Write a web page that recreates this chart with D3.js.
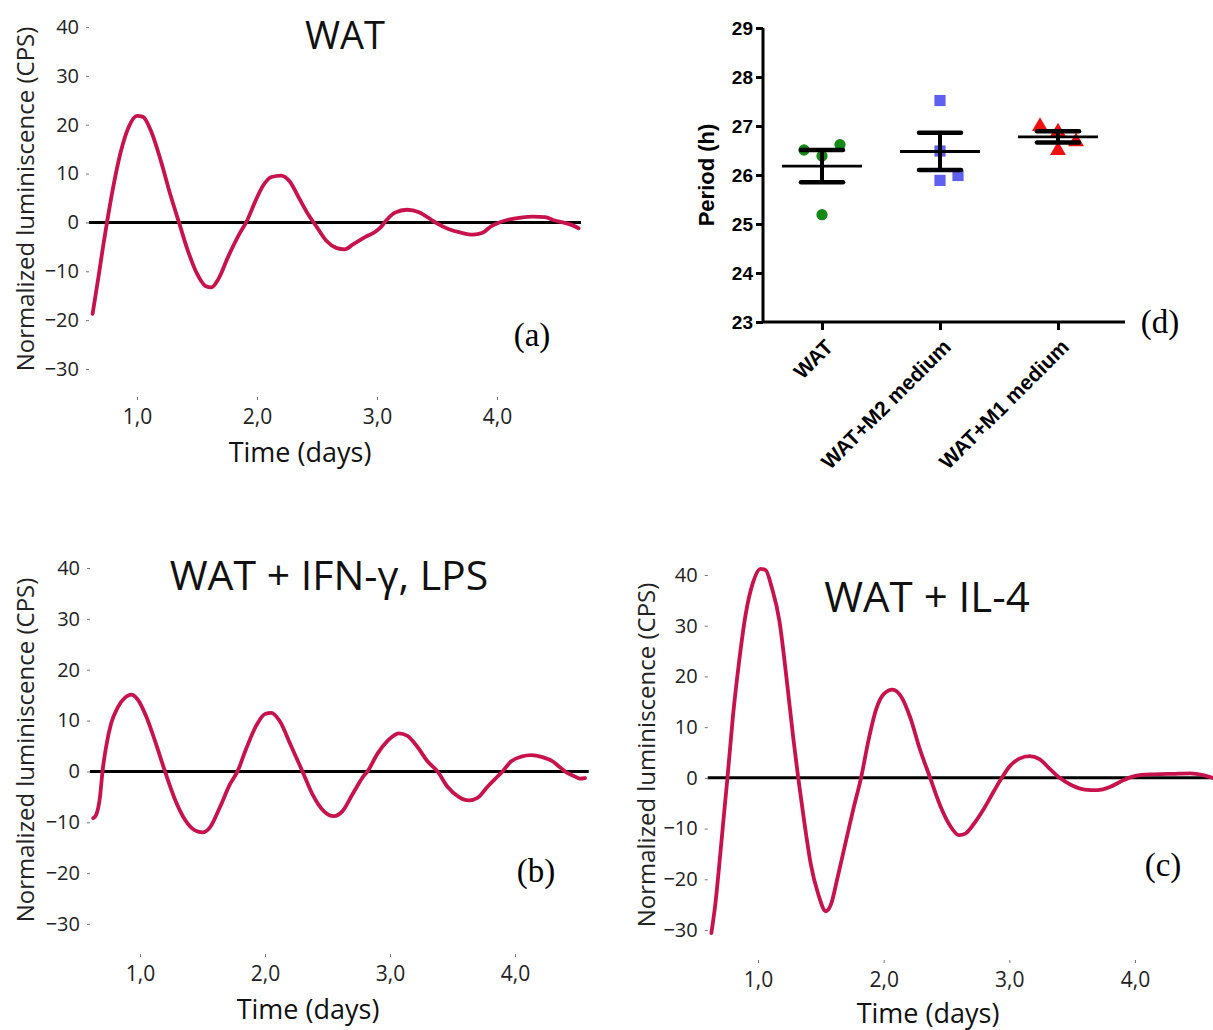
<!DOCTYPE html>
<html>
<head>
<meta charset="utf-8">
<script src="https://cdn.jsdelivr.net/npm/d3@7"></script>
<style>
  html, body { margin: 0; padding: 0; background: #fff; }
  svg { display: block; }
</style>
</head>
<body>
<svg id="chart" width="1213" height="1030"></svg>
<script>
// ---------------- DATA ----------------
// Luminescence traces: [day, normalized luminescence (CPS)]
const traceWAT = [
  [0.63,-18.7],[0.68,-11],[0.72,-4.5],[0.75,0],[0.80,7],[0.86,14],[0.93,19.5],[1.0,21.8],[1.05,21.6],
  [1.12,18.5],[1.2,12.5],[1.28,5.5],[1.35,0],[1.42,-5.5],[1.5,-10.5],[1.57,-13],[1.62,-13.3],
  [1.68,-11.5],[1.76,-7],[1.85,-2.5],[1.92,0.5],[1.98,4],[2.05,7.5],[2.12,9.3],[2.2,9.6],[2.27,8.5],
  [2.35,5],[2.43,1.5],[2.5,-1],[2.58,-3.8],[2.66,-5.2],[2.73,-5.5],[2.8,-4.5],[2.9,-3],[2.98,-2],
  [3.03,-1],[3.08,0.5],[3.15,2],[3.25,2.6],[3.35,2.1],[3.45,0.6],[3.5,-0.2],[3.6,-1.4],[3.7,-2.1],
  [3.8,-2.5],[3.88,-2.1],[3.95,-0.8],[4.02,0],[4.1,0.6],[4.2,1.0],[4.3,1.2],[4.4,1.1],[4.48,0.4],
  [4.55,0],[4.62,-0.5],[4.68,-1.2]
];
const traceIFN = [
  [0.626,-9.2],[0.65,-8.5],[0.68,-5],[0.70,0],[0.73,5],[0.77,9.5],[0.82,12.5],[0.88,14.5],[0.93,15.1],
  [0.98,14.2],[1.05,10.8],[1.12,6],[1.2,0],[1.28,-5.5],[1.36,-9.5],[1.44,-11.6],[1.5,-12],[1.56,-11],
  [1.64,-7],[1.72,-2.5],[1.78,0],[1.85,4.5],[1.93,9],[2.0,11.3],[2.05,11.5],[2.12,9.8],[2.2,5.5],
  [2.3,0],[2.38,-4.5],[2.47,-7.8],[2.55,-8.8],[2.62,-7.8],[2.7,-4.5],[2.78,-1.2],[2.82,0],[2.9,3.5],
  [2.98,6],[3.07,7.5],[3.14,7],[3.22,4.8],[3.3,2],[3.38,0],[3.46,-3],[3.55,-5],[3.63,-5.7],[3.7,-5.2],
  [3.78,-3],[3.86,-1],[3.9,0],[3.97,2],[4.05,2.9],[4.13,3.2],[4.22,2.8],[4.3,2],[4.36,0.8],[4.4,0],
  [4.47,-0.9],[4.52,-1.4],[4.56,-1.3]
];
const traceIL4 = [
  [0.629,-30.6],[0.66,-25],[0.70,-15],[0.73,-7],[0.757,0],[0.80,12],[0.85,23],[0.90,32],[0.96,38.5],
  [1.02,41.2],[1.06,41],[1.11,37.5],[1.17,31],[1.23,19],[1.28,8],[1.32,0],[1.37,-9],[1.42,-17],
  [1.48,-23],[1.54,-26.3],[1.58,-25],[1.63,-20],[1.69,-13.5],[1.76,-6],[1.82,0],[1.88,7.5],[1.94,13.5],
  [2.0,16.5],[2.07,17.4],[2.14,16],[2.21,12],[2.29,5.5],[2.37,0],[2.45,-5.5],[2.53,-9.5],[2.6,-11.3],
  [2.65,-11],[2.72,-9],[2.8,-6],[2.88,-2.5],[2.94,0],[3.0,2.2],[3.08,3.8],[3.16,4.3],[3.24,3.7],
  [3.32,1.8],[3.4,0],[3.5,-1.5],[3.6,-2.3],[3.7,-2.4],[3.8,-1.8],[3.88,-0.8],[3.95,0],[4.05,0.6],
  [4.15,0.7],[4.3,0.8],[4.44,0.9],[4.55,0.5],[4.62,0]
];
const lumTicks = [-30,-20,-10,0,10,20,30,40];
const dayTicks = [1,2,3,4];
const dayTickLabels = ["1,0","2,0","3,0","4,0"];

// Period panel
const periodCategories = ["WAT","WAT+M2 medium","WAT+M1 medium"];
const periodWAT = [26.51, 26.62, 26.39, 25.19];
const periodM2  = [27.52, 26.49, 25.99, 25.89];
const periodM1  = [26.99, 26.88, 26.68, 26.50];
const periodMean = [26.18, 26.48, 26.78];
const periodSEM  = [0.33, 0.38, 0.115];
const periodTicks = [23,24,25,26,27,28,29];

// ---------------- LAYOUT ----------------
const svg = d3.select("#chart");
const curveColor = "#c8124b";
const sansFont = "'Open Sans', 'Noto Sans', sans-serif";
const boldFont = "'Liberation Sans', Arial, sans-serif";
const serifFont = "'Liberation Serif', 'Times New Roman', serif";

const panels = [
  { data: traceWAT, title: "WAT", letter: "(a)", titleSize: 38,
    xr: [137, 497], yr: [369, 27], zeroEnd: 4.70, tickY: 397,
    titleX: 345, titleY: 49, letterX: 532, letterY: 346,
    ylabX: 24, ylabY: 199, xlabX: 300, xlabY: 462 },
  { data: traceIFN, title: "WAT + IFN-\u03b3, LPS", letter: "(b)", titleSize: 41,
    xr: [140, 515], yr: [924, 568], zeroEnd: 4.59, tickY: 954,
    titleX: 329, titleY: 590, letterX: 536, letterY: 882,
    ylabX: 24, ylabY: 750, xlabX: 308, xlabY: 1019 },
  { data: traceIL4, title: "WAT + IL-4", letter: "(c)", titleSize: 42,
    xr: [758, 1135], yr: [930, 575], zeroEnd: 4.64, tickY: 960,
    titleX: 927, titleY: 612, letterX: 1163, letterY: 876,
    ylabX: 645, ylabY: 755, xlabX: 928, xlabY: 1023 }
];

panels.forEach(p => {
  const x = d3.scaleLinear().domain([1, 4]).range(p.xr);
  const y = d3.scaleLinear().domain([-30, 40]).range(p.yr);
  const g = svg.append("g");

  // y axis (ticks only)
  const yAxis = d3.axisLeft(y).tickValues(lumTicks).tickSize(3).tickPadding(7)
    .tickFormat(d => d3.format("d")(d));
  const ya = g.append("g").attr("transform", `translate(${x(0.6)},0)`).call(yAxis);
  ya.select(".domain").remove();
  ya.selectAll(".tick line").attr("stroke", "#777").attr("stroke-width", 1);
  ya.selectAll(".tick text").attr("font-family", sansFont).attr("font-size", 20)
    .attr("fill", "#222");

  // x axis (ticks only)
  const xAxis = d3.axisBottom(x).tickValues(dayTicks).tickSize(3).tickPadding(9)
    .tickFormat((d, i) => dayTickLabels[i]);
  const xa = g.append("g").attr("transform", `translate(0,${p.tickY})`).call(xAxis);
  xa.select(".domain").remove();
  xa.selectAll(".tick line").attr("stroke", "#777").attr("stroke-width", 1);
  xa.selectAll(".tick text").attr("font-family", sansFont).attr("font-size", 21)
    .attr("fill", "#222");

  // zero line
  g.append("line")
    .attr("x1", x(0.6)).attr("x2", x(p.zeroEnd))
    .attr("y1", y(0)).attr("y2", y(0))
    .attr("stroke", "#000").attr("stroke-width", 3);

  // trace
  const line = d3.line().x(d => x(d[0])).y(d => y(d[1])).curve(d3.curveMonotoneX);
  g.append("path").datum(p.data).attr("d", line)
    .attr("fill", "none").attr("stroke", curveColor).attr("stroke-width", 3.8)
    .attr("stroke-linejoin", "round").attr("stroke-linecap", "round");

  // labels
  g.append("text").attr("x", p.titleX).attr("y", p.titleY).attr("text-anchor", "middle")
    .attr("font-family", sansFont).attr("font-size", p.titleSize).attr("fill", "#111").text(p.title);
  g.append("text").attr("x", p.letterX).attr("y", p.letterY).attr("text-anchor", "middle")
    .attr("font-family", serifFont).attr("font-size", 33).attr("fill", "#000").text(p.letter);
  g.append("text").attr("transform", `translate(${p.ylabX},${p.ylabY}) rotate(-90)`)
    .attr("text-anchor", "middle").attr("dominant-baseline", "central")
    .attr("font-family", sansFont).attr("font-size", 24).attr("fill", "#222")
    .text("Normalized luminiscence (CPS)");
  g.append("text").attr("x", p.xlabX).attr("y", p.xlabY).attr("text-anchor", "middle")
    .attr("font-family", sansFont).attr("font-size", 27).attr("fill", "#111")
    .text("Time (days)");
});

// ---------------- PANEL (d) ----------------
(function () {
  const left = 763, right = 1125;
  const y = d3.scaleLinear().domain([23, 29]).range([322, 28]);
  const x = d3.scalePoint().domain(periodCategories).range([822, 1058]);
  const g = svg.append("g");
  const jitterPx = 18;
  const jitter = [[-1, 1, 0, 0], [0, 0, 1, 0], [-1, 0, 1, 0]];
  const groups = [periodWAT, periodM2, periodM1];

  // y axis
  const ya = g.append("g").attr("transform", `translate(${left},0)`)
    .call(d3.axisLeft(y).tickValues(periodTicks).tickSize(7).tickPadding(3).tickFormat(d3.format("d")));
  ya.select(".domain").attr("stroke-width", 3).attr("d", `M0,${y(29)}V${y(23)}`);
  ya.selectAll(".tick line").attr("stroke-width", 3);
  ya.selectAll(".tick text").attr("font-family", boldFont).attr("font-weight", "bold")
    .attr("font-size", 19).attr("fill", "#000");

  // x axis
  const xa = g.append("g").attr("transform", `translate(0,${y(23)})`)
    .call(d3.axisBottom(x).tickSize(8).tickFormat(""));
  xa.select(".domain").attr("stroke-width", 3).attr("d", `M${left},0H${right}`);
  xa.selectAll(".tick line").attr("stroke-width", 3);
  periodCategories.forEach(c => {
    g.append("text")
      .attr("transform", `translate(${x(c) + 7},${y(23) + 21}) rotate(-45)`)
      .attr("text-anchor", "end").attr("dominant-baseline", "central")
      .attr("font-family", boldFont).attr("font-weight", "bold").attr("font-size", 21)
      .attr("fill", "#000").text(c);
  });

  // axis title
  g.append("text").attr("transform", `translate(706,${y(26)}) rotate(-90)`)
    .attr("text-anchor", "middle").attr("dominant-baseline", "central")
    .attr("font-family", boldFont).attr("font-weight", "bold").attr("font-size", 22)
    .attr("fill", "#000").text("Period (h)");

  // points
  const colors = ["#168a16", "#5f5ff2", "#f01010"];
  const syms = [d3.symbolCircle, d3.symbolSquare, d3.symbolTriangle];
  const sizes = [100, 125, 110];
  groups.forEach((vals, gi) => {
    const cx = x(periodCategories[gi]);
    g.selectAll(null).data(vals).enter().append("path")
      .attr("d", d3.symbol().type(syms[gi]).size(sizes[gi]))
      .attr("transform", (v, i) => `translate(${cx + jitter[gi][i] * jitterPx},${y(v)})`)
      .attr("fill", colors[gi]);
  });

  // mean +- SEM
  periodCategories.forEach((c, i) => {
    const cx = x(c), m = periodMean[i], s = periodSEM[i];
    g.append("line").attr("x1", cx).attr("x2", cx).attr("y1", y(m + s)).attr("y2", y(m - s))
      .attr("stroke", "#000").attr("stroke-width", 4);
    [m + s, m - s].forEach(v => {
      g.append("line").attr("x1", cx - 21).attr("x2", cx + 21).attr("y1", y(v)).attr("y2", y(v))
        .attr("stroke", "#000").attr("stroke-width", 4.5).attr("stroke-linecap", "round");
    });
    g.append("line").attr("x1", cx - 40).attr("x2", cx + 40).attr("y1", y(m)).attr("y2", y(m))
      .attr("stroke", "#000").attr("stroke-width", 2.8);
  });

  g.append("text").attr("x", 1160).attr("y", 333).attr("text-anchor", "middle")
    .attr("font-family", serifFont).attr("font-size", 33).attr("fill", "#000").text("(d)");
})();
</script>
</body>
</html>
